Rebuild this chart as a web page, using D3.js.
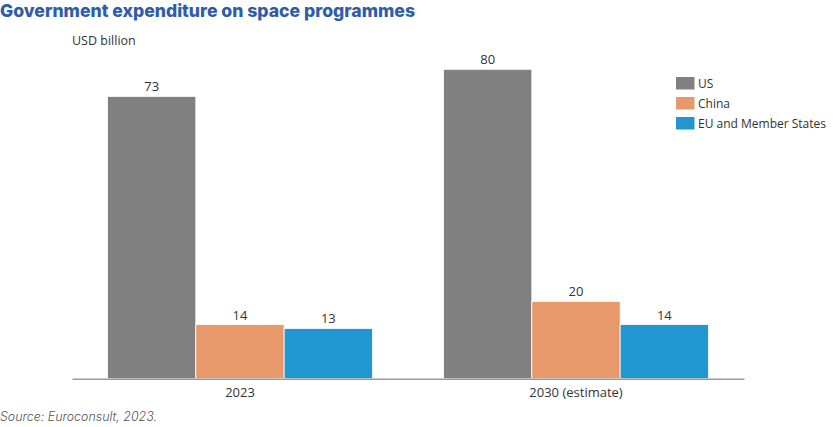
<!DOCTYPE html>
<html><head><meta charset="utf-8">
<script src="https://cdn.jsdelivr.net/npm/d3@7/dist/d3.min.js"></script>
<style>
body{margin:0;background:#fff;}
text{font-family:"Open Sans","Noto Sans",sans-serif;}
</style></head>
<body><svg id="c" width="833" height="427"></svg>
<script>
const categories = ["2023", "2030 (estimate)"];
const seriesNames = ["US", "China", "EU and Member States"];
const usValues = [73, 80];
const chinaValues = [14, 20];
const euValues = [13, 14];
const colors = ["#808080", "#e8996b", "#2196d0"];

const svg = d3.select("#c");
const seriesVals = [usValues, chinaValues, euValues];

const baseY = 378.7;
const y = d3.scaleLinear().domain([0, 80]).range([baseY, 69.3]);
const x0 = d3.scaleBand().domain(categories).range([72, 744]).padding(0);
const x1 = d3.scaleBand().domain(seriesNames).range([35.5, 300.5]).padding(0);

// title
svg.append("text").attr("x", 0).attr("y", 16.5)
  .style("font-family", "Inter, 'Open Sans', sans-serif")
  .attr("font-weight", 800).attr("font-size", 17.5).attr("fill", "#2f5ca8")
  .attr("textLength", 415).attr("lengthAdjust", "spacingAndGlyphs")
  .text("Government expenditure on space programmes");

svg.append("text").attr("x", 72).attr("y", 45).attr("font-size", 12.5).attr("fill", "#333")
  .text("USD billion");

const groups = svg.selectAll("g.grp").data(categories).join("g")
  .attr("class", "grp").attr("transform", d => `translate(${x0(d)},0)`);

groups.each(function(cat, ci) {
  const g = d3.select(this);
  seriesNames.forEach((s, si) => {
    const v = seriesVals[si][ci];
    g.append("rect").attr("x", x1(s)).attr("width", x1.bandwidth())
      .attr("y", y(v)).attr("height", baseY - y(v))
      .attr("fill", colors[si]).attr("stroke", "#fff").attr("stroke-width", 0.8);
    g.append("text").attr("x", x1(s) + x1.bandwidth() / 2).attr("y", y(v) - 5)
      .attr("text-anchor", "middle").attr("font-size", 13).attr("fill", "#333")
      .text(v);
  });
});

// axis
const xAxis = d3.axisBottom(x0).tickSize(0).tickPadding(9);
const ax = svg.append("g").attr("transform", `translate(0,${baseY})`).call(xAxis);
ax.select(".domain").attr("stroke", "#999").attr("stroke-width", 1.5);
ax.selectAll("text").attr("font-size", 13).attr("fill", "#333")
  .attr("font-family", "'Open Sans', sans-serif");

// legend
const leg = svg.append("g").attr("transform", "translate(676,77)");
seriesNames.forEach((s, i) => {
  leg.append("rect").attr("x", 0).attr("y", i * 20).attr("width", 18.5).attr("height", 12.5)
    .attr("fill", colors[i]);
  leg.append("text").attr("x", 22).attr("y", i * 20 + 11).attr("font-size", 12)
    .attr("fill", "#333").text(s);
});

svg.append("text").attr("x", 0).attr("y", 421)
  .style("font-family", "Inter, 'Open Sans', sans-serif")
  .attr("font-size", 12.5)
  .attr("font-style", "italic").attr("font-weight", 300).attr("fill", "#555")
  .attr("textLength", 157).attr("lengthAdjust", "spacingAndGlyphs")
  .text("Source: Euroconsult, 2023.");
</script></body></html>
